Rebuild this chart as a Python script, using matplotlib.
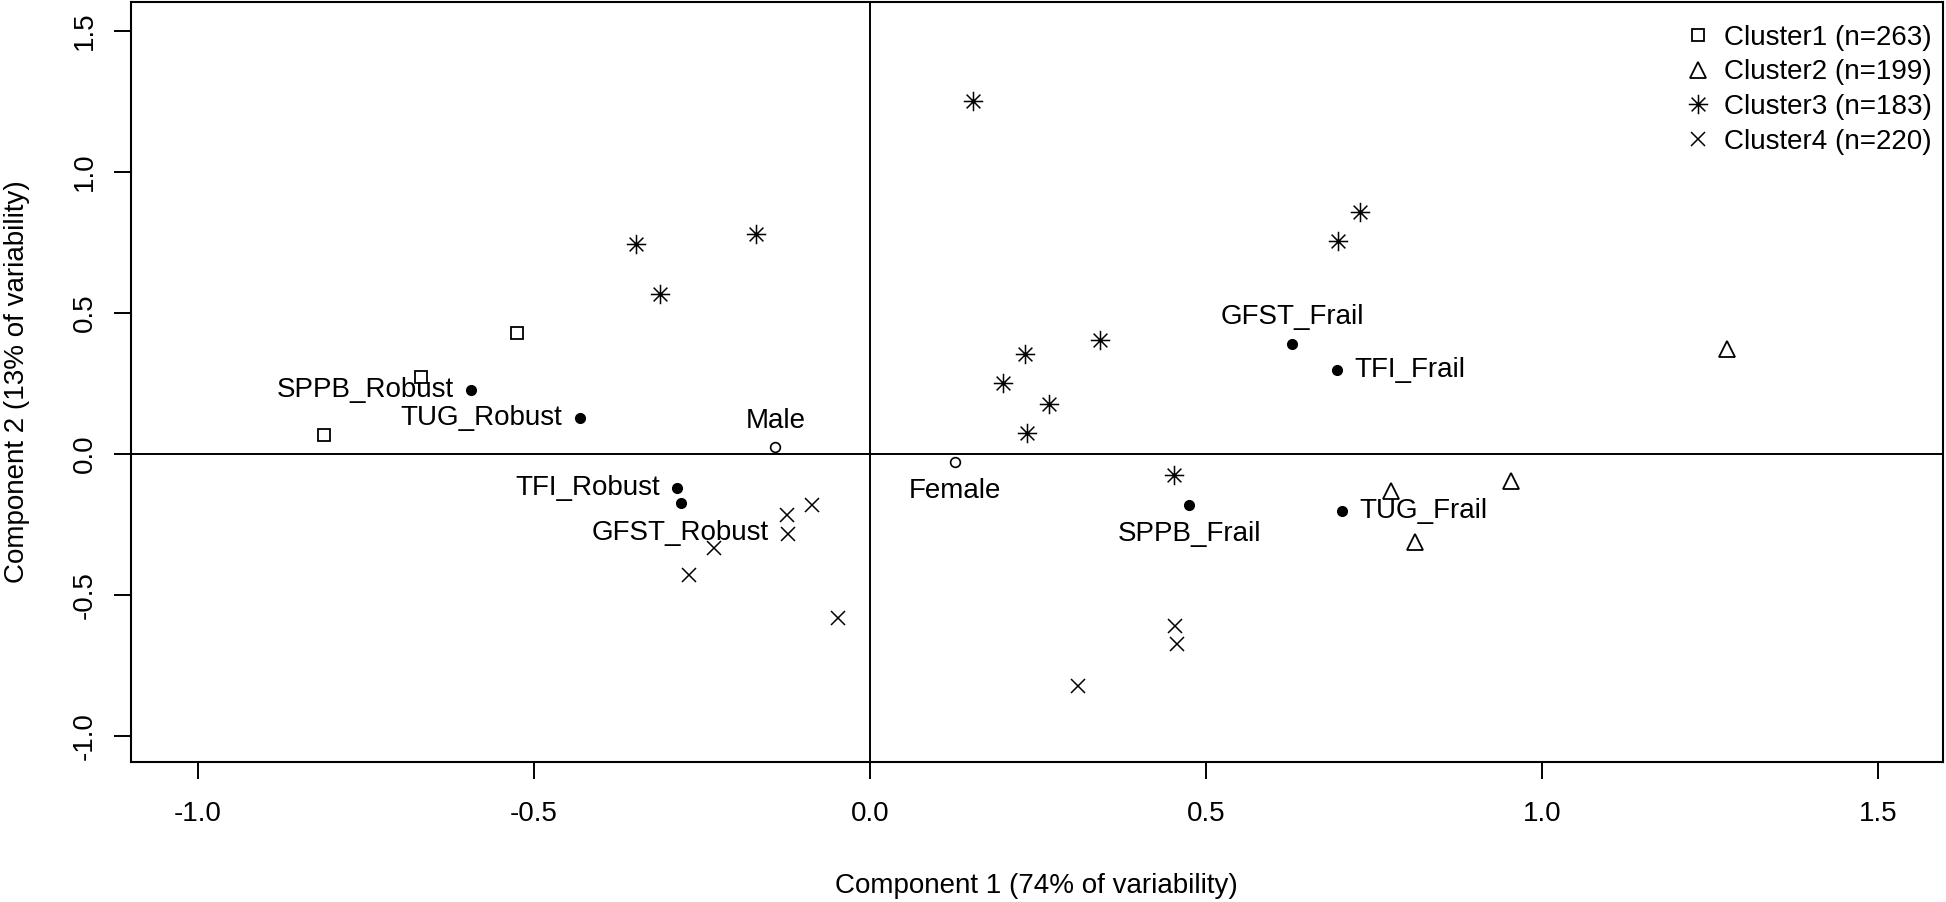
import matplotlib
matplotlib.use("Agg")
import matplotlib.pyplot as plt
from matplotlib.path import Path
from matplotlib.lines import Line2D
import numpy as np

plt.rcParams['font.family'] = ['Liberation Sans', 'DejaVu Sans']

# cluster points (component 1, component 2)
c1_x = [-0.525, -0.669, -0.813]
c1_y = [0.428, 0.274, 0.067]

c2_x = [1.275, 0.775, 0.954, 0.811]
c2_y = [0.371, -0.131, -0.097, -0.311]

c3_x = [0.153, 0.729, 0.696, -0.169, -0.348, -0.313, 0.343, 0.231, 0.198, 0.266, 0.233, 0.453]
c3_y = [1.252, 0.859, 0.757, 0.779, 0.744, 0.568, 0.403, 0.354, 0.253, 0.178, 0.076, -0.073]

c4_x = [-0.087, -0.124, -0.122, -0.233, -0.269, -0.047, 0.454, 0.457, 0.310]
c4_y = [-0.181, -0.217, -0.283, -0.332, -0.429, -0.580, -0.610, -0.675, -0.823]

cluster_names = ["Cluster1 (n=263)", "Cluster2 (n=199)", "Cluster3 (n=183)", "Cluster4 (n=220)"]

# variable categories
var_names = ["SPPB_Robust", "TUG_Robust", "TFI_Robust", "GFST_Robust",
             "GFST_Frail", "TFI_Frail", "SPPB_Frail", "TUG_Frail"]
var_x = [-0.594, -0.432, -0.287, -0.282, 0.628, 0.695, 0.475, 0.703]
var_y = [0.227, 0.127, -0.119, -0.175, 0.391, 0.297, -0.181, -0.202]
var_pos = ["left", "left", "left", "below", "above", "right", "below", "right"]

sex_names = ["Male", "Female"]
sex_x = [-0.141, 0.126]
sex_y = [0.025, -0.027]
sex_pos = ["above", "below"]

xticks = [-1.0, -0.5, 0.0, 0.5, 1.0, 1.5]
yticks = [-1.0, -0.5, 0.0, 0.5, 1.0, 1.5]

# R style asterisk (pch 8): + and x on top of each other
d = 0.7071
star = Path([(0, -1), (0, 1), (-1, 0), (1, 0), (-d, -d), (d, d), (-d, d), (d, -d)],
            [Path.MOVETO, Path.LINETO] * 4)

fig = plt.figure(figsize=(19.46, 9.02), dpi=100)
ax = fig.add_axes([131/1946, 1-762/902, 1812/1946, 760/902])

ax.axhline(0, color='black', lw=1.4, zorder=1)
ax.axvline(0, color='black', lw=1.4, zorder=1)

ax.plot(c1_x, c1_y, ls='none', marker='s', ms=8.5, mfc='none', mec='black', mew=1.3)
ax.plot(c2_x, c2_y, ls='none', marker='^', ms=11, mfc='none', mec='black', mew=1.3)
ax.plot(c3_x, c3_y, ls='none', marker=star, ms=14, mfc='none', mec='black', mew=1.1)
ax.plot(c4_x, c4_y, ls='none', marker='x', ms=10.5, mfc='none', mec='black', mew=1.1)

ax.plot(var_x, var_y, ls='none', marker='o', ms=7, color='black')
ax.plot(sex_x, sex_y, ls='none', marker='o', ms=7, mfc='white', mec='black', mew=1.2)

offs = {"left": ((-12.5, 0), 'right', 'center'),
        "right": ((12.5, 0), 'left', 'center'),
        "above": ((0, 19), 'center', 'center'),
        "below": ((0, -21), 'center', 'center')}
for nm, x, y, p in zip(var_names + sex_names, var_x + sex_x, var_y + sex_y, var_pos + sex_pos):
    o, ha, va = offs[p]
    ax.annotate(nm, (x, y), xytext=o, textcoords='offset points', ha=ha, va=va, fontsize=20)

ax.set_xlim(-1.10, 1.597)
ax.set_ylim(-1.092, 1.603)
ax.set_xticks(xticks)
ax.set_xticklabels(["%.1f" % t for t in xticks])
ax.set_yticks(yticks)
ax.set_yticklabels(["%.1f" % t for t in yticks], rotation=90, va='center')
ax.tick_params(direction='out', length=12, width=1.4, labelsize=20)
ax.tick_params(axis='x', pad=16)
ax.tick_params(axis='y', pad=12)
for s in ax.spines.values():
    s.set_linewidth(1.5)

fig.text(1036/1946, 1-886/902, "Component 1 (74% of variability)", ha='center', va='center', fontsize=20)
fig.text(17/1946, 1-382/902, "Component 2 (13% of variability)", ha='center', va='center',
         rotation=90, fontsize=20)

handles = [Line2D([], [], ls='none', marker='s', ms=8.5, mfc='none', mec='black', mew=1.3),
           Line2D([], [], ls='none', marker='^', ms=11, mfc='none', mec='black', mew=1.3),
           Line2D([], [], ls='none', marker=star, ms=14, mfc='none', mec='black', mew=1.1),
           Line2D([], [], ls='none', marker='x', ms=10.5, mfc='none', mec='black', mew=1.1)]
ax.legend(handles, cluster_names, loc='upper left', bbox_to_anchor=(0.857, 0.970),
          frameon=False, borderpad=0, borderaxespad=0, handlelength=1.0,
          handletextpad=0.45, labelspacing=0.31, fontsize=20)

fig.savefig("out.png", dpi=100)
